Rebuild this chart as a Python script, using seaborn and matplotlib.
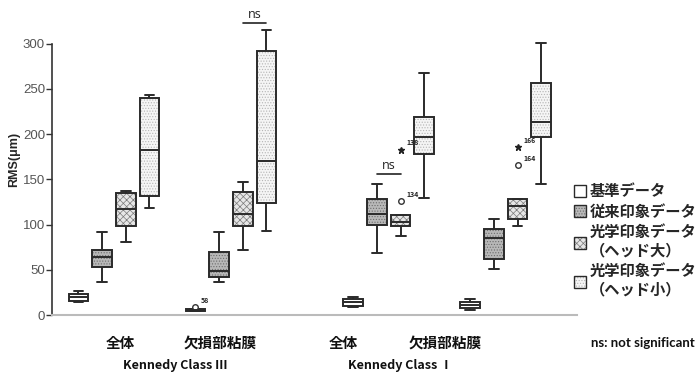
import pandas as pd
import seaborn as sns
import matplotlib.pyplot as plt
from matplotlib.colors import to_rgba
from matplotlib.patches import Patch

# Groups along the x axis
groups = ["全体", "欠損部粘膜", "全体", "欠損部粘膜"]
classes = ["Kennedy Class Ⅲ", "Kennedy Class Ⅰ"]
series = ["基準データ", "従来印象データ", "光学印象データ\n（ヘッド大）", "光学印象データ\n（ヘッド小）"]

# Five-number summaries, one per group:
# [lower whisker, Q1, median, Q3, upper whisker]
kijun = [[14, 15.5, 19.5, 23, 26], [4, 4.5, 5.5, 6.5, 7], [9, 10, 14, 17.7, 20], [5.5, 7.4, 11, 14.7, 17.7]]
juurai = [[37, 53, 64, 72, 92], [36, 42.5, 49, 69.5, 91.5], [69, 100, 111.5, 128, 145], [51, 62, 85, 95, 106]]
koudai = [[81, 98, 117, 135, 137.5], [72, 98.5, 112, 136, 147], [87, 98.5, 103, 111, 111], [98, 106, 121, 128.5, 128.5]]
koushou = [[118, 132, 183, 240, 243], [93, 124, 170, 292, 315], [129, 178, 197, 219, 268], [145, 197, 213, 256, 301]]

# Outliers: series index, group index, value, id label, marker
out_series = [0, 2, 2, 2, 2]
out_group = [1, 2, 2, 3, 3]
out_value = [9, 126, 183, 166, 186]
out_label = ["58", "134", "138", "164", "166"]
out_marker = ["o", "o", "*", "o", "*"]

# Significance bars: group, (series a, series b), height
ns_group = [1, 2]
ns_pair = [(2, 3), (1, 2)]
ns_height = [323, 156]

# layout
group_pos = [0, 1, 2.35, 3.35]
width, gap = 0.81, 0.17
faces = ["#ffffff", "#b8b8b8", "#e6e6e6", "#f5f5f5"]
hatches = [None, "......", "xxxxx", "......"]
hatch_cols = ["#2a2a2a", "#6e6e6e", "#7a7a7a", "#b5b5b5"]

rows = []
for s, boxes in zip(series, [kijun, juurai, koudai, koushou]):
    for gp, vals in zip(group_pos, boxes):
        for v in vals:
            rows.append({"pos": gp, "series": s, "RMS": v})
df = pd.DataFrame(rows)

sns.set_style("white")
plt.rcParams["font.family"] = ["Noto Sans CJK JP", "DejaVu Sans"]
plt.rcParams["hatch.linewidth"] = 0.5

fig = plt.figure(figsize=(7, 3.77), dpi=100)
ax = fig.add_axes([52 / 700, 1 - 315 / 377, (577 - 52) / 700, 312 / 377])

sns.boxplot(data=df, x="pos", y="RMS", hue="series", hue_order=series,
            native_scale=True, palette=dict(zip(series, faces)), saturation=1,
            width=width, gap=gap, whis=(0, 100), linecolor="#2a2a2a",
            linewidth=1.4, legend=False, ax=ax)

for cont, h, hc in zip(ax.containers, hatches, hatch_cols):
    if h:
        for b in cont.boxes:
            b.set_hatch(h)
            b._hatch_color = to_rgba(hc)

step = width / 4
for si, gi, v, lab, m in zip(out_series, out_group, out_value, out_label, out_marker):
    x = group_pos[gi] + (si - 1.5) * step
    if m == "o":
        ax.plot(x, v, marker="o", mfc="white", mec="#333", ms=4, mew=1)
    else:
        ax.plot(x, v, marker="*", color="#222", ms=5)
    ax.annotate(lab, (x, v), xytext=(4, 3), textcoords="offset points",
                fontsize=5, fontweight="bold", color="#222")

for gi, (a, b), h in zip(ns_group, ns_pair, ns_height):
    x1 = group_pos[gi] + (a - 1.5) * step
    x2 = group_pos[gi] + (b - 1.5) * step
    ax.plot([x1, x2], [h, h], color="#222", lw=1.2)
    ax.text((x1 + x2) / 2, h + 2, "ns", ha="center", va="bottom", fontsize=9,
            family=["Open Sans", "DejaVu Sans"], color="#222")

ax.set_xlim(-0.53, 3.96)
ax.set_ylim(0, 345)
ax.set_xticks([])
ax.set_xlabel("")
ax.set_yticks(range(0, 301, 50))
ax.tick_params(axis="y", left=True, length=4, width=1, color="#333",
               labelsize=9.5, labelcolor="#555", pad=1)
for t in ax.get_yticklabels():
    t.set_family(["Liberation Sans", "DejaVu Sans"])
ax.set_ylabel("RMS(μm)", fontsize=9, fontweight="bold",
              family=["Liberation Sans", "DejaVu Sans"], labelpad=2)
sns.despine(ax=ax)
ax.spines["left"].set_bounds(0, 300)
ax.spines["left"].set_color("#333")
ax.spines["left"].set_linewidth(1.2)
ax.spines["bottom"].set_color("#bbbbbb")
ax.spines["bottom"].set_linewidth(1.5)

# category labels below the axis
for px, lab in zip([120, 220, 343, 445], groups):
    fig.text(px / 700, 1 - 343 / 377, lab, ha="center", va="center",
             fontsize=10.5, fontweight="bold", color="#111")
for px, lab in zip([175, 400], classes):
    fig.text(px / 700, 1 - 365 / 377, lab, ha="center", va="center",
             fontsize=9, fontweight="bold", color="#111")
fig.text(695 / 700, 1 - 343 / 377, "ns: not significant", ha="right", va="center",
         fontsize=9.5, fontweight="bold", color="#111", family=["Lato", "DejaVu Sans"])

handles = []
for f, h, hc in zip(faces, hatches, hatch_cols):
    p = Patch(facecolor=f, edgecolor="#2a2a2a", hatch=h, linewidth=1)
    p._hatch_color = to_rgba(hc)
    handles.append(p)
fig.legend(handles, series, loc="upper left", bbox_to_anchor=(574 / 700, 1 - 183 / 377),
           frameon=False, prop={"weight": "bold", "size": 11},
           handlelength=0.8, handleheight=0.8, handletextpad=0.25, labelspacing=0.3,
           borderaxespad=0, borderpad=0)

fig.savefig("out.png", dpi=100)
